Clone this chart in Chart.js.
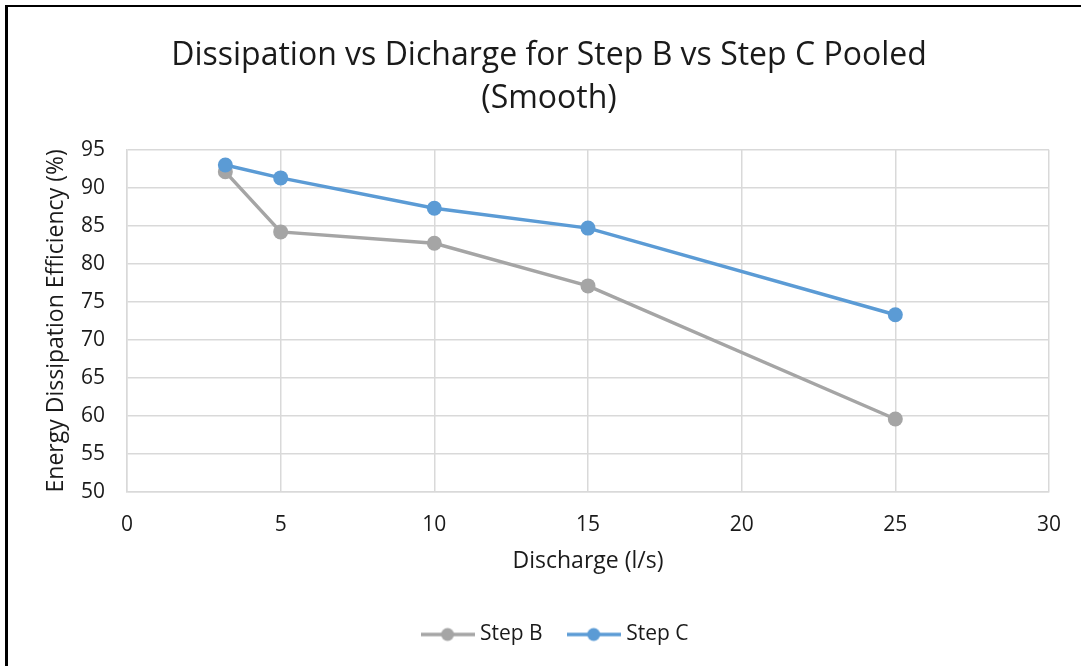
<!DOCTYPE html>
<html>
<head>
<meta charset="utf-8">
<script src="https://cdn.jsdelivr.net/npm/chart.js@4/dist/chart.umd.min.js"></script>
<style>
    html, body { margin: 0; padding: 0; background: #fff; overflow: hidden; }
    #box { width: 1081px; height: 666px; }
</style>
</head>
<body>
<div id="box"><canvas id="chart"></canvas></div>
<script>
// ----------------------------------------------------------------------
//  data
// ----------------------------------------------------------------------
const discharge = [3.2, 5, 10, 15, 25]
const stepB = [92.1, 84.2, 82.7, 77.1, 59.6]
const stepC = [93.0, 91.3, 87.3, 84.7, 73.3]
const seriesNames = ["Step B", "Step C"]
const seriesColors = ["#a5a5a5", "#5b9bd5"]
const titleLines = ["Dissipation vs Dicharge for Step B vs Step C Pooled", "(Smooth)"]
const xTitle = "Discharge (l/s)"
const yTitle = "Energy Dissipation Efficiency (%)"

const FONT = "'Open Sans', sans-serif"
const TEXT = "#1a1a1a"
const GRID = "#d9d9d9"

// ----------------------------------------------------------------------
//  legend marker: a short line with a dot, as in Excel
// ----------------------------------------------------------------------
function legendMark (color)
{
    const c = document.createElement("canvas")
    c.width = 54
    c.height = 16
    const g = c.getContext("2d")
    g.strokeStyle = color
    g.lineWidth = 3.5
    g.beginPath()
    g.moveTo(0, 8)
    g.lineTo(54, 8)
    g.stroke()
    g.fillStyle = color
    g.beginPath()
    g.arc(27, 8, 6.5, 0, Math.PI * 2)
    g.fill()
    return c
}

// black frame round the picture (only top and left are visible)
const framePlugin = {
    id: "frame",
    beforeDraw (chart)
    {
        const ctx = chart.ctx
        ctx.save()
        ctx.fillStyle = "#fff"
        ctx.fillRect(0, 0, chart.width, chart.height)
        ctx.fillStyle = "#000"
        ctx.fillRect(5, 5, 3, chart.height)
        ctx.fillRect(5, 5, chart.width, 2)
        ctx.restore()
    }
}

// Excel centres title and legend a little right of the canvas centre
const boxShift = {
    id: "boxShift",
    afterLayout (chart)
    {
        chart.legend.left += 24
        chart.legend.right += 24
        chart.titleBlock.left += 16
        chart.titleBlock.right += 16
    }
}

// ----------------------------------------------------------------------
const series = [stepB, stepC]
const datasets = series.map((vals, i) => ({
    label: seriesNames[i],
    data: vals.map((v, k) => ({ x: discharge[k], y: v })),
    borderColor: seriesColors[i],
    backgroundColor: seriesColors[i],
    borderWidth: 3.5,
    pointRadius: 7.5,
    pointHoverRadius: 7.5,
    pointBorderWidth: 0,
    tension: 0,
    order: series.length - i
    }))

const marks = seriesColors.map(legendMark)

const config = {
    type: "line",
    data: { datasets: datasets },
    plugins: [framePlugin, boxShift],
    options: {
        responsive: true,
        maintainAspectRatio: false,
        animation: false,
        layout: { padding: { left: 8, right: 23, top: 8, bottom: 11 } },
        plugins: {
            title: {
                display: true,
                text: titleLines,
                color: TEXT,
                font: { family: FONT, size: 32, weight: "normal", lineHeight: 1.34 },
                padding: { top: 26.5, bottom: 29.5 }
                },
            legend: {
                position: "bottom",
                labels: {
                    usePointStyle: true,
                    pointStyleWidth: 44,
                    padding: 29,
                    color: TEXT,
                    font: { family: FONT, size: 21 },
                    generateLabels: chart => datasets.map((d, i) => ({
                        text: d.label,
                        fontColor: TEXT,
                        pointStyle: marks[i],
                        datasetIndex: i,
                        hidden: false,
                        lineWidth: 0
                        }))
                    }
                },
            tooltip: { enabled: false }
            },
        scales: {
            x: {
                type: "linear",
                min: 0,
                max: 30,
                ticks: { stepSize: 5, color: TEXT, padding: 20, font: { family: FONT, size: 21 } },
                grid: { color: GRID, lineWidth: 1.5, drawTicks: false },
                border: { color: GRID, width: 1.5 },
                title: { display: true, text: xTitle, color: TEXT, padding: { top: 0, bottom: 20 },
                    font: { family: FONT, size: 23 } },
                afterFit: s => { s.height = 103 }
                },
            y: {
                min: 50,
                max: 95,
                ticks: { stepSize: 5, color: TEXT, padding: 22, font: { family: FONT, size: 21 } },
                grid: { color: GRID, lineWidth: 1.5, drawTicks: false },
                border: { color: GRID, width: 1.5 },
                title: { display: true, text: yTitle, color: TEXT, padding: { top: 35, bottom: 0 },
                    font: { family: FONT, size: 23 } },
                afterFit: s => { s.width = 119 }
                }
            }
        }
    }

const chart = new Chart(document.getElementById("chart"), config)
</script>
</body>
</html>
